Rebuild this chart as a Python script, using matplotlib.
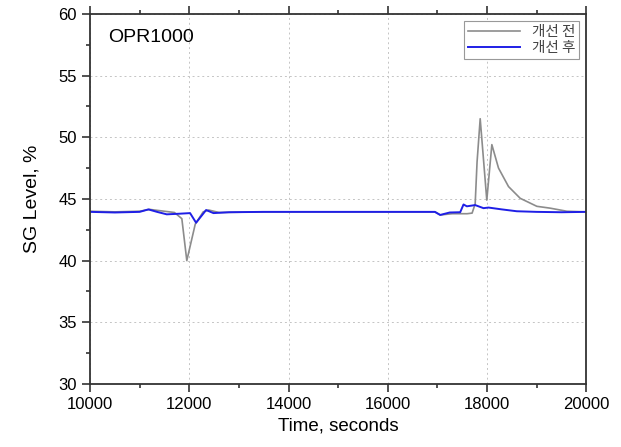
import matplotlib.pyplot as plt
from matplotlib.ticker import MultipleLocator

plt.rcParams['font.family'] = ['Liberation Sans', 'Noto Sans CJK KR', 'DejaVu Sans']

# SG level before improvement (gray)
t_before = [10000, 10500, 11000, 11200, 11400, 11700, 11850, 11950, 12120, 12280, 12390,
            12600, 13500, 14500, 15500, 16500, 16950, 17060, 17300, 17600, 17700,
            17762, 17800, 17863, 17996, 18098, 18232, 18434, 18669, 19005, 19274,
            19610, 20000]
lv_before = [44.0, 43.95, 44.0, 44.15, 44.05, 43.9, 43.4, 40.0, 42.95, 43.95, 44.1,
             43.9, 43.95, 43.95, 43.95, 43.95, 43.95, 43.7, 43.8, 43.8, 43.85,
             44.6, 48.0, 51.5, 44.9, 49.4, 47.5, 46.0, 45.05, 44.4, 44.25,
             44.0, 43.95]

# SG level after improvement (blue)
t_after = [10000, 10500, 11000, 11176, 11350, 11546, 11800, 12016, 12137, 12339, 12487,
           12800, 13500, 14500, 15500, 16500, 16950, 17056, 17250, 17460, 17527,
           17594, 17762, 17930, 18030, 18300, 18600, 19000, 19500, 20000]
lv_after = [43.95, 43.9, 43.95, 44.15, 43.95, 43.75, 43.8, 43.85, 43.07, 44.1, 43.85,
            43.92, 43.95, 43.95, 43.95, 43.95, 43.95, 43.7, 43.9, 43.92, 44.55,
            44.4, 44.5, 44.25, 44.3, 44.15, 44.0, 43.95, 43.92, 43.95]

labels = ['개선 전', '개선 후']

fig = plt.figure(figsize=(6.21, 4.47), dpi=100)
ax = fig.add_axes([0.145, 0.141, 0.799, 0.828])

ax.plot(t_before, lv_before, color='#8c8c8c', lw=1.2, label=labels[0])
ax.plot(t_after, lv_after, color='#1f1fe6', lw=1.4, label=labels[1])

ax.set_xlim(10000, 20000)
ax.set_ylim(30, 60)
ax.xaxis.set_major_locator(MultipleLocator(2000))
ax.xaxis.set_minor_locator(MultipleLocator(1000))
ax.yaxis.set_major_locator(MultipleLocator(5))
ax.yaxis.set_minor_locator(MultipleLocator(2.5))
ax.grid(True, which='major', ls=(0, (2, 3)), color='#c4c4c4', lw=0.7)

for s in ax.spines.values():
    s.set_color('#333333')
    s.set_linewidth(1.3)
ax.tick_params(which='both', direction='out', color='#333333', width=1.2,
               labelsize=12, top=True, right=False)
ax.tick_params(which='major', length=6)
ax.tick_params(which='minor', length=3)

ax.set_xlabel('Time, seconds', fontsize=13.5)
ax.set_ylabel('SG Level, %', fontsize=14, labelpad=13)
ax.text(0.037, 0.96, 'OPR1000', transform=ax.transAxes, fontsize=14, va='top')

leg = ax.legend(loc='upper right', fancybox=False, framealpha=1,
                edgecolor='#999999', handlelength=3.6, borderpad=0.25,
                labelspacing=0.15, borderaxespad=0.5,
                prop={'family': ['Noto Sans CJK KR', 'DejaVu Sans'], 'size': 10.5})
leg.get_frame().set_linewidth(0.8)
for t in leg.get_texts():
    t.set_color('#444444')

fig.savefig('out.png', dpi=100)
